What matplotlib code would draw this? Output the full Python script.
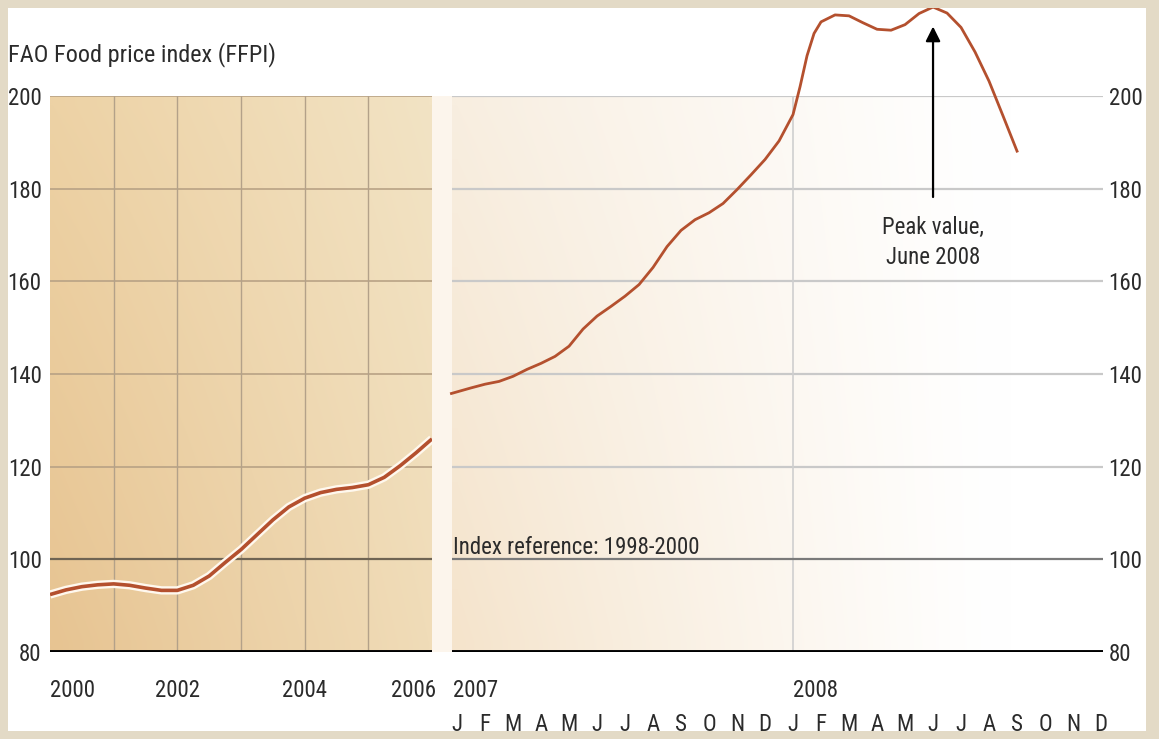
import matplotlib
matplotlib.use("Agg")
import matplotlib.pyplot as plt
import matplotlib.font_manager as fm
import numpy as np
from matplotlib.patches import Rectangle
import matplotlib.transforms as mtrans
import matplotlib.patheffects as pe

# ---------------- data ----------------
years_2000_2006 = [2000.0, 2000.25, 2000.5, 2000.75, 2001.0, 2001.25, 2001.5, 2001.75,
                   2002.0, 2002.25, 2002.5, 2002.75, 2003.0, 2003.25, 2003.5, 2003.75,
                   2004.0, 2004.25, 2004.5, 2004.75, 2005.0, 2005.25, 2005.5, 2005.75, 2006.0]
ffpi_2000_2006 = [92.4, 93.4, 94.1, 94.5, 94.7, 94.4, 93.8, 93.3,
                  93.3, 94.4, 96.4, 99.3, 102.1, 105.3, 108.5, 111.3,
                  113.2, 114.4, 115.1, 115.5, 116.1, 117.7, 120.2, 123.0, 126.0]

# month index: 0 = January 2007, 12 = January 2008
months_2007_2008 = [-0.2, 0.5, 1.0, 1.5, 2.0, 2.5, 3.0, 3.5, 4.0, 4.5, 5.0, 5.5, 6.0, 6.5,
                    7.0, 7.5, 8.0, 8.5, 9.0, 9.5, 10.0, 10.5, 11.0, 11.5, 12.0, 12.25,
                    12.5, 12.75, 13.0, 13.5, 14.0, 14.5, 15.0, 15.5, 16.0, 16.5, 17.0,
                    17.5, 18.0, 18.5, 19.0, 19.5, 20.0]
ffpi_2007_2008 = [135.8, 137.0, 137.8, 138.4, 139.5, 141.0, 142.3, 143.8, 146.0, 149.7,
                  152.5, 154.6, 156.8, 159.3, 163.0, 167.5, 171.0, 173.3, 174.8, 176.8,
                  179.8, 183.0, 186.3, 190.3, 196.0, 202.0, 208.7, 213.5, 216.0, 217.5,
                  217.3, 215.8, 214.4, 214.2, 215.4, 217.8, 219.2, 217.9, 214.8, 209.5,
                  203.2, 195.7, 188.1]

y_ticks = [80, 100, 120, 140, 160, 180, 200]
left_year_labels = ["2000", "2002", "2004", "2006"]
left_year_pos = [2000, 2002, 2004, 2006]
month_letters = ["J", "F", "M", "A", "M", "J", "J", "A", "S", "O", "N", "D"] * 2
peak_month = 17
peak_label = "Peak value,\nJune 2008"
title = "FAO Food price index (FFPI)"
ref_label = "Index reference: 1998-2000"

# ---------------- font: prefer a narrow / condensed sans ----------------
names = {f.name for f in fm.fontManager.ttflist}
cond_dejavu = any(f.name == "DejaVu Sans" and str(f.stretch) in ("condensed", "semi-condensed", "587", "500")
                  for f in fm.fontManager.ttflist)
stretch = "normal"
if "Liberation Sans Narrow" in names:
    fam = "Liberation Sans Narrow"; FS = 16.5
elif "Roboto Condensed" in names:
    fam = "Roboto Condensed"; FS = 16.5
elif "Open Sans Condensed" in names:
    fam = "Open Sans Condensed"; FS = 16.5
elif "DejaVu Sans Condensed" in names:
    fam = "DejaVu Sans Condensed"; FS = 14.5
elif cond_dejavu:
    fam = "DejaVu Sans"; stretch = "condensed"; FS = 14.5
else:
    fam = "Liberation Sans"; FS = 15
plt.rcParams["font.family"] = [fam, "DejaVu Sans"]
plt.rcParams["font.stretch"] = stretch

TXT = "#2b2b2b"
LINE = "#b4502e"

W, H = 1159, 739
fig = plt.figure(figsize=(W / 100, H / 100), dpi=100)
fig.patch.set_facecolor("white")

def fx(px):
    return px / W

def fy(py):
    return 1 - py / H

axL = fig.add_axes([fx(50), fy(652), fx(432) - fx(50), fy(96) - fy(652)])
axR = fig.add_axes([fx(452), fy(652), fx(1103) - fx(452), fy(96) - fy(652)])

for ax in (axL, axR):
    ax.set_ylim(80, 200)
    ax.patch.set_alpha(0)
    for s in ax.spines.values():
        s.set_visible(False)
    ax.tick_params(length=0)
    ax.set_xticks([])

axL.set_xlim(2000, 2006)
axR.set_xlim(-0.18, 23.07)

# light strip in the gap between the panels
fig.add_artist(Rectangle((fx(432), fy(652)), (452 - 432) / W, (652 - 96) / H,
                         transform=fig.transFigure, facecolor="#fcf5ec", edgecolor="none", zorder=-1))

# gradient backgrounds
n = 60
xs = np.linspace(0, 1, n)
ys = np.linspace(0, 1, 30)
X, Y = np.meshgrid(xs, ys)
bl = np.array([231, 196, 146]) / 255
br = np.array([240, 220, 184]) / 255
tl = np.array([237, 210, 165]) / 255
tr = np.array([242, 227, 196]) / 255
imgL = (bl[None, None, :] * ((1 - X) * (1 - Y))[..., None] + br * (X * (1 - Y))[..., None]
        + tl * ((1 - X) * Y)[..., None] + tr * (X * Y)[..., None])
axL.imshow(imgL, extent=[0, 1, 0, 1], transform=axL.transAxes, origin="lower",
           aspect="auto", zorder=0, interpolation="bilinear")

cb = np.array([245, 228, 204]) / 255
ct = np.array([248, 238, 224]) / 255
wgt = np.clip(1 - X / 0.85, 0, 1) ** 1.2
base = cb[None, None, :] * (1 - Y)[..., None] + ct[None, None, :] * Y[..., None]
imgR = 1 - (1 - base) * wgt[..., None]
axR.imshow(imgR, extent=[0, 1, 0, 1], transform=axR.transAxes, origin="lower",
           aspect="auto", zorder=0, interpolation="bilinear")

# gridlines
for v in y_ticks:
    if v == 80:
        axL.axhline(v, color="black", lw=2.8, zorder=3)
        axR.axhline(v, color="black", lw=2.8, zorder=3)
    elif v == 100:
        axL.axhline(v, color="#6f6453", lw=1.6, zorder=2)
        axR.axhline(v, color="#7a7a7a", lw=1.6, zorder=2)
    else:
        axL.axhline(v, color="#b8a285", lw=1.2, zorder=1)
        axR.axhline(v, color="#c9c9c9", lw=1.6, zorder=1)
for yr in range(2001, 2006):
    axL.axvline(yr, color="#b3a189", lw=1.0, zorder=1)
axR.axvline(12, color="#cfcfcf", lw=1.2, zorder=1)

# lines
axL.plot(years_2000_2006, ffpi_2000_2006, color=LINE, lw=2.6, zorder=4,
         solid_capstyle="butt", solid_joinstyle="round",
         path_effects=[pe.Stroke(linewidth=6.0, foreground="#fff8ee"), pe.Normal()])
axR.plot(months_2007_2008, ffpi_2007_2008, color=LINE, lw=2.0, zorder=4,
         solid_joinstyle="round", clip_on=False)

# y tick labels
axL.set_yticks(y_ticks)
axL.set_yticklabels([str(v) for v in y_ticks], fontsize=FS, color=TXT)
axL.tick_params(axis="y", pad=6)
axR.yaxis.tick_right()
axR.set_yticks(y_ticks)
axR.set_yticklabels([str(v) for v in y_ticks], fontsize=FS, color=TXT)
axR.tick_params(axis="y", pad=4)

# x labels
trL = mtrans.blended_transform_factory(axL.transData, axL.transAxes)
trR = mtrans.blended_transform_factory(axR.transData, axR.transAxes)
aligns = ["left", "center", "center", "right"]
offs = [0.0, 0.0, 0.0, 0.07]
for lab, pos, ha, o in zip(left_year_labels, left_year_pos, aligns, offs):
    axL.text(pos + o, -0.07, lab, transform=trL, ha=ha, va="center", fontsize=FS, color=TXT,
             clip_on=False)
axR.text(-0.15, -0.07, "2007", transform=trR, ha="left", va="center", fontsize=FS, color=TXT)
axR.text(12.0, -0.07, "2008", transform=trR, ha="left", va="center", fontsize=FS, color=TXT)
for i, m in enumerate(month_letters):
    axR.text(i, -0.13, m, transform=trR, ha="center", va="center", fontsize=FS, color=TXT)

# reference text
axR.text(-0.15, 101.2, ref_label, ha="left", va="baseline", fontsize=FS, color=TXT, zorder=5)

# annotation
axR.annotate("", xy=(peak_month, 215.0), xytext=(peak_month, 178.2),
             arrowprops=dict(arrowstyle="-|>", color="black", lw=1.6,
                             mutation_scale=22, shrinkA=0, shrinkB=0),
             annotation_clip=False, zorder=6)
axR.text(peak_month, 168.4, peak_label, ha="center", va="center", fontsize=FS,
         color=TXT, linespacing=1.35)

# title
fig.text(fx(8), fy(55), title, ha="left", va="center", fontsize=FS + 1, color=TXT)

# beige frame
frame = "#e3dac6"
for (x0, y0, w, h) in [(0, 0, 8, H), (1146, 0, W - 1146, H), (0, 0, W, 8), (0, 731, W, H - 731)]:
    fig.add_artist(Rectangle((fx(x0), fy(y0 + h)), w / W, h / H, transform=fig.transFigure,
                             facecolor=frame, edgecolor="none", zorder=100))

fig.savefig("out.png", dpi=100)
